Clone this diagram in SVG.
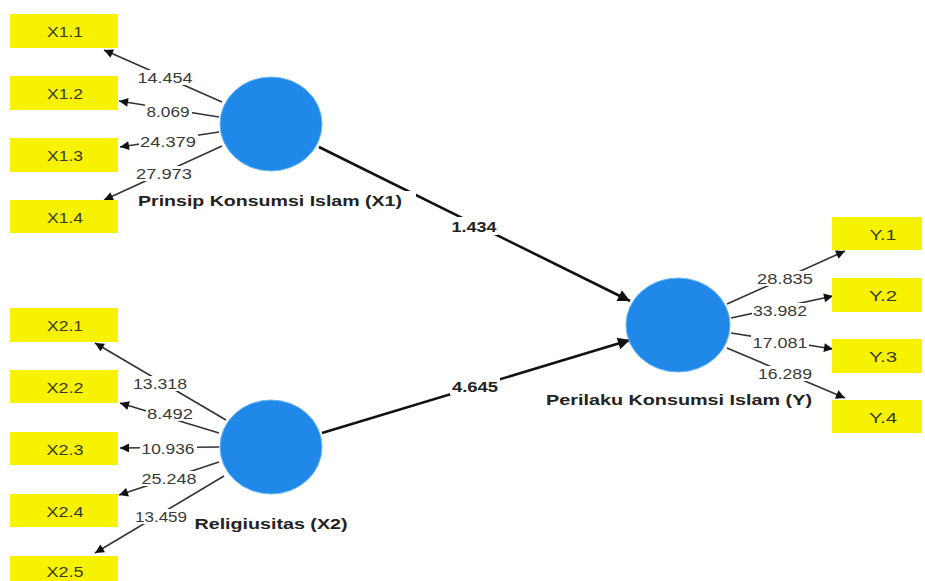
<svg xmlns="http://www.w3.org/2000/svg" width="925" height="581" viewBox="0 0 925 581">
<style>
.box{fill:#f7f200;}
.bt{font-family:"Liberation Sans",Arial,sans-serif;font-size:15.5px;fill:#3a3a2a;text-anchor:middle;dominant-baseline:central;}
.lv{fill:#2088e8;stroke:#6ab8f5;stroke-width:1;}
.lt{font-family:"Liberation Sans",Arial,sans-serif;font-size:15.5px;font-weight:bold;fill:#222;text-anchor:middle;}
.num{font-family:"Liberation Sans",Arial,sans-serif;font-size:15.5px;fill:#3a3a3a;text-anchor:middle;dominant-baseline:central;}
.pn{font-family:"Liberation Sans",Arial,sans-serif;font-size:15px;font-weight:bold;fill:#222;text-anchor:middle;dominant-baseline:central;}
.bg{fill:#fff;}
.ln{stroke:#333;stroke-width:1.6;fill:none;marker-end:url(#ah);}
.pl{stroke:#111;stroke-width:2.6;fill:none;marker-end:url(#ahb);}
</style>
<defs>
<marker id="ah" viewBox="0 0 10 10" refX="10" refY="5" markerWidth="10" markerHeight="9" markerUnits="userSpaceOnUse" orient="auto"><path d="M0,0 L10,5 L0,10 z" fill="#111"/></marker>
<marker id="ahb" viewBox="0 0 10 10" refX="10" refY="5" markerWidth="16" markerHeight="12" markerUnits="userSpaceOnUse" orient="auto"><path d="M0,0 L10,5 L0,10 z" fill="#111"/></marker>
</defs>
<rect width="925" height="581" fill="#fff"/>
<g id="connectors">
<line class="ln" x1="222" y1="102" x2="104" y2="50"/>
<line class="ln" x1="219" y1="117" x2="119" y2="101"/>
<line class="ln" x1="219" y1="132" x2="120" y2="147"/>
<line class="ln" x1="222" y1="146" x2="104" y2="200"/>
<line class="ln" x1="226" y1="420" x2="95" y2="343"/>
<line class="ln" x1="219" y1="433" x2="120" y2="403"/>
<line class="ln" x1="219" y1="447" x2="120" y2="448"/>
<line class="ln" x1="219" y1="462" x2="119" y2="495"/>
<line class="ln" x1="224" y1="476" x2="95" y2="553"/>
<line class="ln" x1="727" y1="304" x2="845" y2="251"/>
<line class="ln" x1="731" y1="318" x2="833" y2="296"/>
<line class="ln" x1="731" y1="333" x2="833" y2="349"/>
<line class="ln" x1="727" y1="348" x2="845" y2="398"/>
<line class="pl" x1="319" y1="147" x2="630" y2="301"/>
<line class="pl" x1="322" y1="433" x2="630" y2="340"/>
<rect class="bg" x="450" y="217" width="48" height="18"/>
<rect class="bg" x="450" y="377" width="50" height="18"/>
<rect class="bg" x="136" y="70" width="58" height="15"/>
<rect class="bg" x="145" y="104" width="47" height="15"/>
<rect class="bg" x="139" y="134" width="59" height="15"/>
<rect class="bg" x="135" y="166" width="59" height="15"/>
<rect class="bg" x="132" y="376" width="57" height="15"/>
<rect class="bg" x="146" y="406" width="49" height="15"/>
<rect class="bg" x="140" y="441" width="57" height="15"/>
<rect class="bg" x="140" y="471" width="58" height="15"/>
<rect class="bg" x="134" y="509" width="55" height="15"/>
<rect class="bg" x="756" y="271" width="59" height="15"/>
<rect class="bg" x="752" y="303" width="57" height="15"/>
<rect class="bg" x="751" y="335" width="58" height="15"/>
<rect class="bg" x="757" y="366" width="57" height="15"/>
<text class="pn" x="474" y="226" textLength="45" lengthAdjust="spacingAndGlyphs">1.434</text>
<text class="pn" x="475" y="386" textLength="46" lengthAdjust="spacingAndGlyphs">4.645</text>
<text class="num" x="165" y="77" textLength="55" lengthAdjust="spacingAndGlyphs">14.454</text>
<text class="num" x="168" y="111" textLength="43" lengthAdjust="spacingAndGlyphs">8.069</text>
<text class="num" x="168" y="141" textLength="56" lengthAdjust="spacingAndGlyphs">24.379</text>
<text class="num" x="164" y="173" textLength="56" lengthAdjust="spacingAndGlyphs">27.973</text>
<text class="num" x="160" y="383" textLength="54" lengthAdjust="spacingAndGlyphs">13.318</text>
<text class="num" x="170" y="413" textLength="46" lengthAdjust="spacingAndGlyphs">8.492</text>
<text class="num" x="168" y="448" textLength="53" lengthAdjust="spacingAndGlyphs">10.936</text>
<text class="num" x="169" y="478" textLength="55" lengthAdjust="spacingAndGlyphs">25.248</text>
<text class="num" x="161" y="516" textLength="52" lengthAdjust="spacingAndGlyphs">13.459</text>
<text class="num" x="785" y="278" textLength="56" lengthAdjust="spacingAndGlyphs">28.835</text>
<text class="num" x="780" y="310" textLength="54" lengthAdjust="spacingAndGlyphs">33.982</text>
<text class="num" x="780" y="342" textLength="55" lengthAdjust="spacingAndGlyphs">17.081</text>
<text class="num" x="785" y="373" textLength="54" lengthAdjust="spacingAndGlyphs">16.289</text>
</g>
<g id="X1">
<ellipse class="lv" cx="271" cy="124" rx="51" ry="47"/>
<rect class="bg" x="134" y="191" width="282" height="19"/>
<text class="lt" x="270" y="206" textLength="264" lengthAdjust="spacingAndGlyphs">Prinsip Konsumsi Islam (X1)</text>
</g>
<g id="X2">
<ellipse class="lv" cx="271" cy="447" rx="51" ry="47"/>
<text class="lt" x="271" y="529" textLength="153" lengthAdjust="spacingAndGlyphs">Religiusitas (X2)</text>
</g>
<g id="Y">
<ellipse class="lv" cx="678" cy="325" rx="52" ry="47"/>
<text class="lt" x="679" y="405" textLength="266" lengthAdjust="spacingAndGlyphs">Perilaku Konsumsi Islam (Y)</text>
</g>
<g id="X1.1"><rect class="box" x="10" y="14" width="108" height="34"/><text class="bt" x="65" y="31" textLength="36" lengthAdjust="spacingAndGlyphs">X1.1</text></g>
<g id="X1.2"><rect class="box" x="10" y="76" width="108" height="34"/><text class="bt" x="65" y="93" textLength="36" lengthAdjust="spacingAndGlyphs">X1.2</text></g>
<g id="X1.3"><rect class="box" x="10" y="138" width="108" height="34"/><text class="bt" x="65" y="155" textLength="36" lengthAdjust="spacingAndGlyphs">X1.3</text></g>
<g id="X1.4"><rect class="box" x="10" y="200" width="108" height="33"/><text class="bt" x="65" y="217" textLength="36" lengthAdjust="spacingAndGlyphs">X1.4</text></g>
<g id="X2.1"><rect class="box" x="10" y="308" width="108" height="34"/><text class="bt" x="65" y="325" textLength="36" lengthAdjust="spacingAndGlyphs">X2.1</text></g>
<g id="X2.2"><rect class="box" x="10" y="370" width="108" height="33"/><text class="bt" x="65" y="387" textLength="37" lengthAdjust="spacingAndGlyphs">X2.2</text></g>
<g id="X2.3"><rect class="box" x="10" y="432" width="108" height="33"/><text class="bt" x="65" y="449" textLength="37" lengthAdjust="spacingAndGlyphs">X2.3</text></g>
<g id="X2.4"><rect class="box" x="10" y="494" width="108" height="33"/><text class="bt" x="65" y="511" textLength="37" lengthAdjust="spacingAndGlyphs">X2.4</text></g>
<g id="X2.5"><rect class="box" x="10" y="556" width="108" height="34"/><text class="bt" x="65" y="571" textLength="37" lengthAdjust="spacingAndGlyphs">X2.5</text></g>
<g id="Y.1"><rect class="box" x="832" y="217" width="90" height="33"/><text class="bt" x="883" y="234" textLength="27" lengthAdjust="spacingAndGlyphs">Y.1</text></g>
<g id="Y.2"><rect class="box" x="832" y="278" width="90" height="34"/><text class="bt" x="883" y="295" textLength="28" lengthAdjust="spacingAndGlyphs">Y.2</text></g>
<g id="Y.3"><rect class="box" x="832" y="339" width="90" height="34"/><text class="bt" x="883" y="356" textLength="28" lengthAdjust="spacingAndGlyphs">Y.3</text></g>
<g id="Y.4"><rect class="box" x="832" y="400" width="90" height="33"/><text class="bt" x="883" y="417" textLength="28" lengthAdjust="spacingAndGlyphs">Y.4</text></g>
</svg>
